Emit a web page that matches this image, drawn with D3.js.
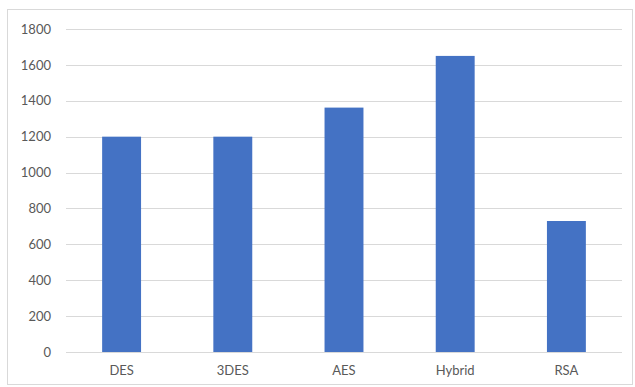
<!DOCTYPE html>
<html>
<head>
<meta charset="utf-8">
<script src="https://cdn.jsdelivr.net/npm/d3@7"></script>
<style>
  html, body { margin: 0; padding: 0; background: #fff; }
  svg { display: block; }
</style>
</head>
<body>
<script>
// Encryption algorithms and their measured values
const categories = ["DES", "3DES", "AES", "Hybrid", "RSA"];
const values = [1200, 1200, 1362, 1650, 730];
const yTicks = [0, 200, 400, 600, 800, 1000, 1200, 1400, 1600, 1800];

const W = 635, H = 387;
const plot = { left: 66, right: 622, top: 29, bottom: 352 };

const svg = d3.select("body").append("svg")
  .attr("width", W).attr("height", H);

// chart area frame
svg.append("rect")
  .attr("x", 7.5).attr("y", 9.5)
  .attr("width", 625).attr("height", 375)
  .attr("fill", "#fff").attr("stroke", "#d9d9d9").attr("stroke-width", 1);

const x = d3.scaleBand().domain(categories).range([plot.left, plot.right]).padding(0);
const y = d3.scaleLinear().domain([0, 1800]).range([plot.bottom, plot.top]);

const font = "Lato, 'Open Sans', sans-serif";

// horizontal gridlines
svg.append("g")
  .selectAll("line").data(yTicks).join("line")
  .attr("x1", plot.left).attr("x2", plot.right)
  .attr("y1", d => Math.round(y(d)) + 0.5).attr("y2", d => Math.round(y(d)) + 0.5)
  .attr("stroke", "#d9d9d9").attr("stroke-width", 1);

// y-axis labels
const yAxis = d3.axisLeft(y).tickValues(yTicks).tickFormat(d3.format("d")).tickSize(0).tickPadding(0);
const gy = svg.append("g").attr("transform", `translate(51,0)`).call(yAxis);
gy.select(".domain").remove();
gy.selectAll("text")
  .attr("fill", "#595959").attr("font-family", font).attr("font-size", 13);

// bars
const barW = x.bandwidth() * 0.35;
svg.append("g")
  .selectAll("rect").data(values).join("rect")
  .attr("x", (d, i) => x(categories[i]) + (x.bandwidth() - barW) / 2)
  .attr("width", barW)
  .attr("y", d => y(d))
  .attr("height", d => y(0) - y(d))
  .attr("fill", "#4472c4");

// category labels
const xAxis = d3.axisBottom(x).tickSize(0).tickPadding(0);
const gx = svg.append("g").attr("transform", `translate(0,${plot.bottom + 14})`).call(xAxis);
gx.select(".domain").remove();
gx.selectAll("text")
  .attr("fill", "#595959").attr("font-family", font).attr("font-size", 13);
</script>
</body>
</html>
